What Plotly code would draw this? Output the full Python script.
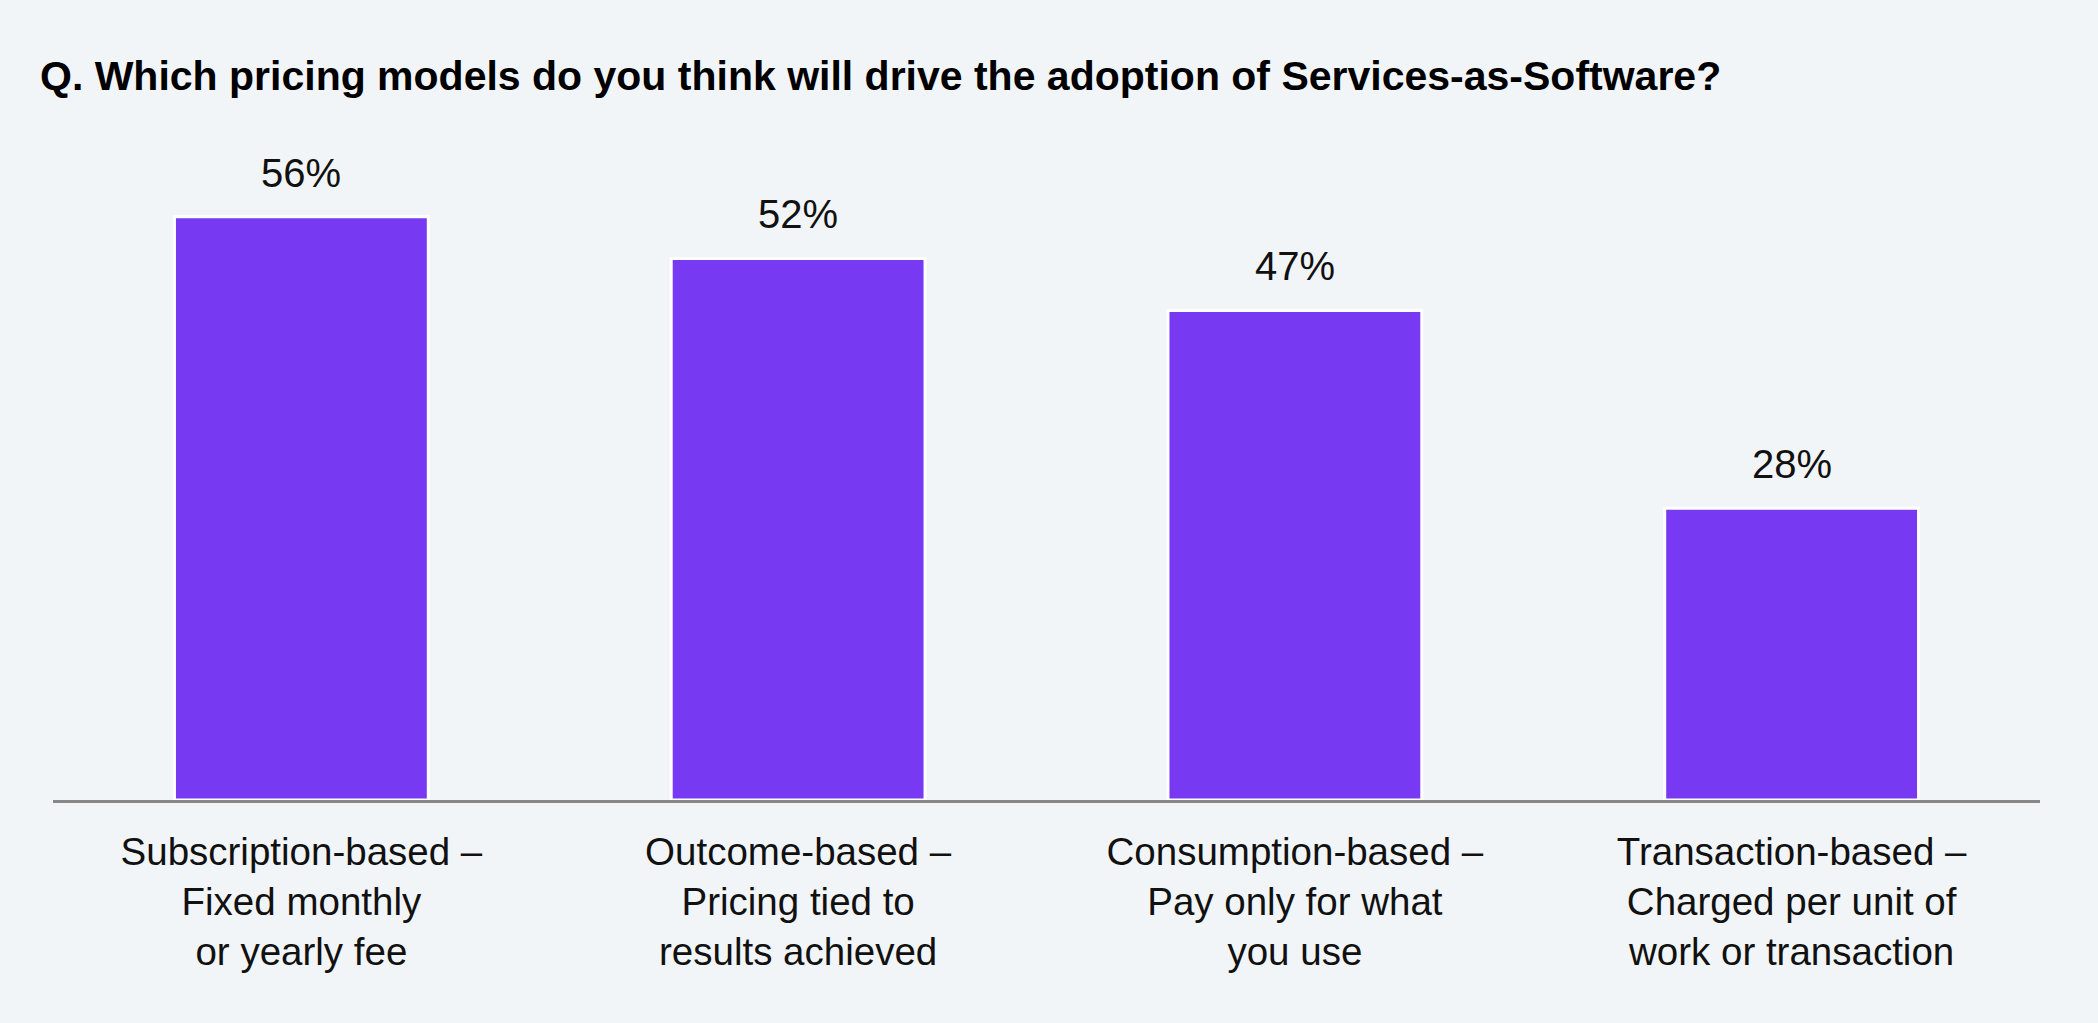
import plotly.graph_objects as go

categories = [
    "Subscription-based –<br>Fixed monthly<br>or yearly fee",
    "Outcome-based –<br>Pricing tied to<br>results achieved",
    "Consumption-based –<br>Pay only for what<br>you use",
    "Transaction-based –<br>Charged per unit of<br>work or transaction",
]
values = [56, 52, 47, 28]
value_labels = ["56%", "52%", "47%", "28%"]
title_text = "Q. Which pricing models do you think will drive the adoption of Services-as-Software?"

FONT = "Liberation Sans, Arial, Helvetica, sans-serif"
BAR = "#7739F2"
BG = "#F2F5F8"

xpos = list(range(len(categories)))

fig = go.Figure()
fig.add_trace(go.Bar(
    x=xpos, y=values, width=0.511,
    marker=dict(color=BAR, line=dict(color="white", width=3)),
    hoverinfo="skip",
))

for x, v, t in zip(xpos, values, value_labels):
    fig.add_annotation(x=x, y=v, text=t, showarrow=False, yanchor="bottom",
                       yshift=20, font=dict(family=FONT, size=40, color="#111111"))

fig.update_layout(
    width=2098, height=1023,
    margin=dict(l=53, r=58, t=123, b=223),
    paper_bgcolor=BG, plot_bgcolor=BG,
    showlegend=False,
    font=dict(family=FONT, color="#111111"),
    title=dict(text="<b>" + title_text + "</b>", xref="container", x=40/2098, xanchor="left",
               yref="container", y=1 - 61/1023, yanchor="top",
               font=dict(family=FONT, size=41, color="#000000")),
    bargap=0.5,
)
fig.update_xaxes(
    tickvals=xpos, ticktext=categories, range=[-0.5, len(categories) - 0.5],
    showline=True, linecolor="#878787", linewidth=3, showgrid=False, zeroline=False,
    ticks="", tickfont=dict(family=FONT, size=38.5, color="#111111"),
    ticklabelstandoff=16,
)
fig.update_yaxes(range=[0, 65], visible=False, showgrid=False, zeroline=False)

fig.write_html("out.html")
